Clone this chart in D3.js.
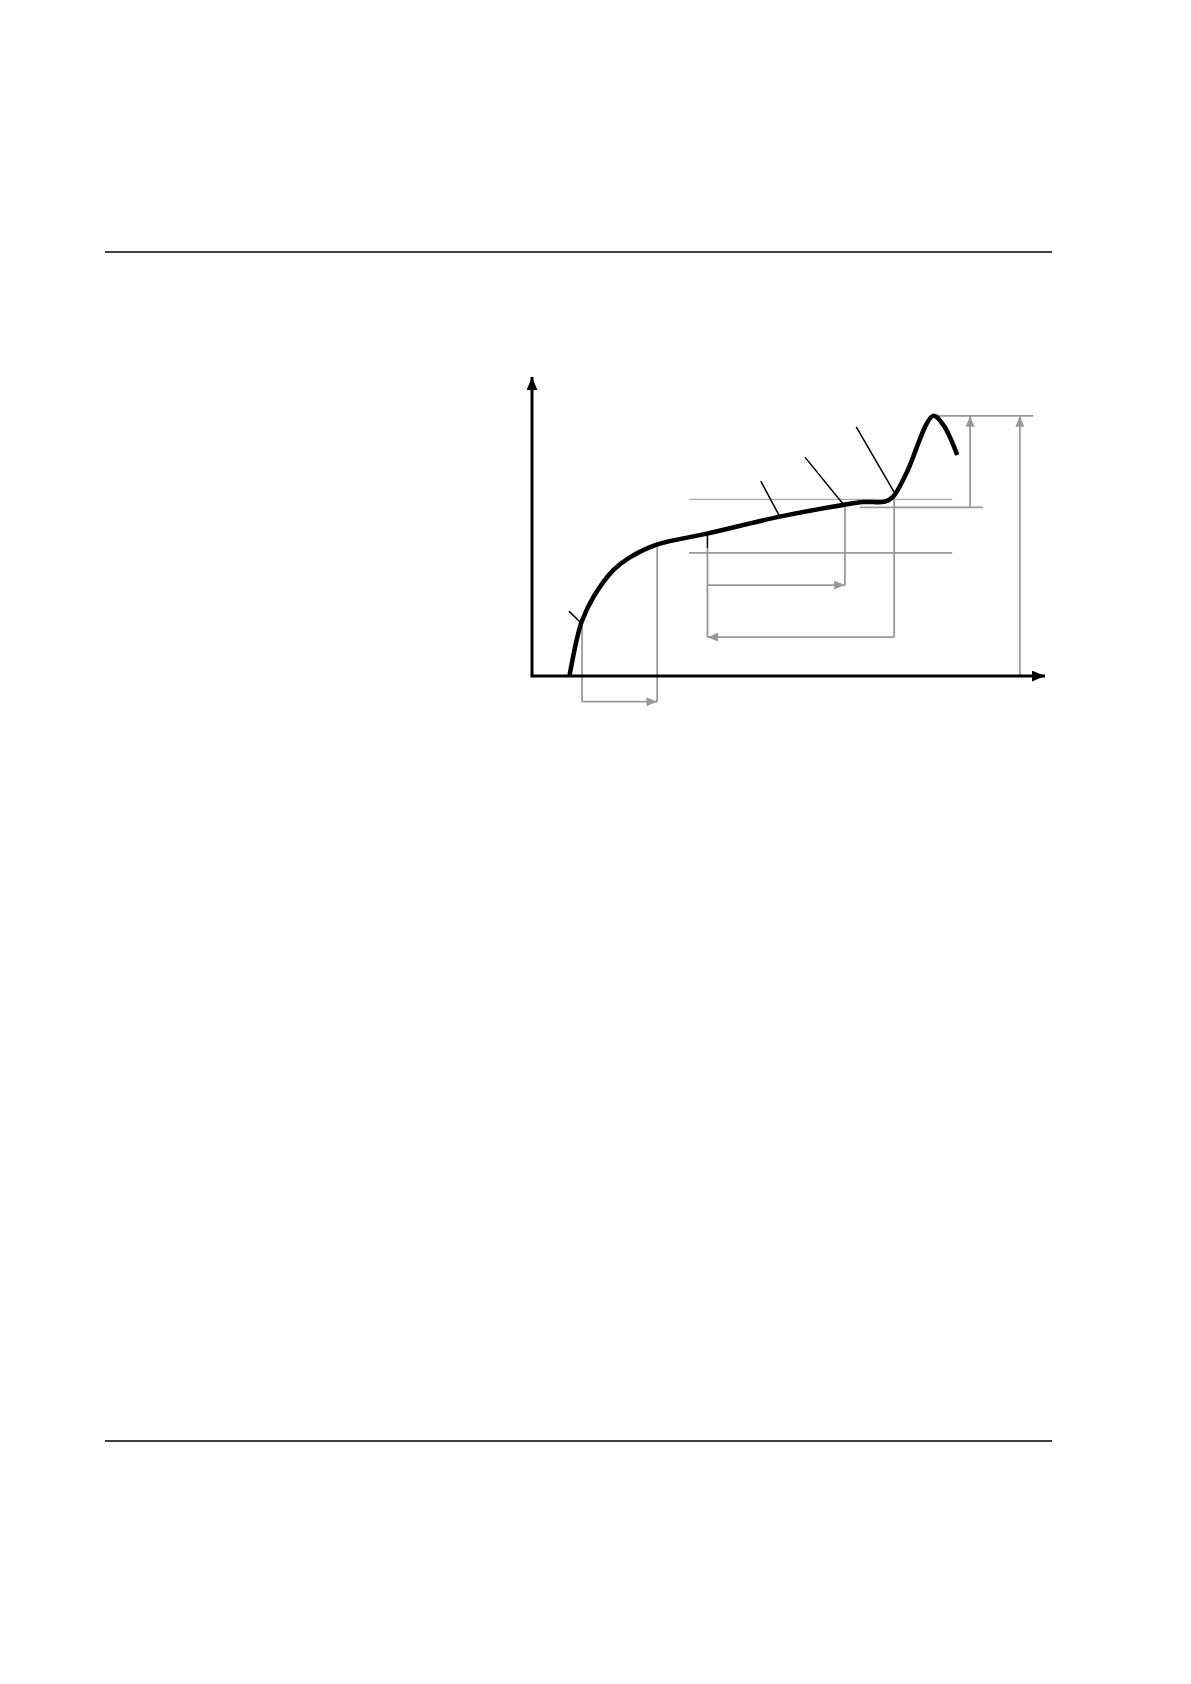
<!DOCTYPE html>
<html>
<head>
<meta charset="utf-8">
<script src="https://cdn.jsdelivr.net/npm/d3@7"></script>
<style>
  html, body { margin: 0; padding: 0; background: #fff; }
  svg { display: block; }
</style>
</head>
<body>
<div id="chart"></div>
<script>
// curve (chart units, 0..100 on both axes)
const curveX = [7.3, 8.7, 9.7, 12.0, 15.9, 19.0, 24.3, 34.1, 48.3, 60.6, 64.5, 68.8, 70.4, 73.0, 78.2, 80.2, 82.9];
const curveY = [0.0, 12.0, 18.2, 26.5, 35.5, 39.6, 43.9, 47.6, 53.3, 57.2, 58.2, 58.3, 60.0, 67.9, 87.0, 83.9, 73.9];

// grey horizontal reference lines: [xStart, xEnd, level]
const refLevels = [
  [78.2, 97.7, 87.0],
  [30.6, 81.9, 59.1],
  [63.9, 87.9, 56.4],
  [30.6, 81.9, 41.2]
];

// grey vertical drop lines: [x, yFrom, yTo]
const dropLines = [
  [9.75, 17.4, -8.6],
  [24.4, 43.8, -8.6],
  [34.2, 42.8, 13.0],
  [61.0, 57.0, 30.4],
  [70.6, 60.0, 13.0]
];

// grey arrows: [x1, y1, x2, y2]
const arrows = [
  [9.75, -8.6, 24.4, -8.6],
  [34.2, 30.4, 61.0, 30.4],
  [70.6, 13.0, 34.2, 13.0],
  [85.4, 56.4, 85.4, 87.0],
  [95.1, 0.0, 95.1, 87.0]
];

// black leader ticks: [x1, y1, x2, y2]
const leaders = [
  [7.2, 21.7, 9.75, 17.4],
  [44.6, 65.2, 48.3, 53.3],
  [53.2, 73.2, 60.8, 57.2],
  [63.2, 83.3, 70.6, 61.5],
  [34.2, 47.4, 34.2, 42.8]
];

const W = 1191, H = 1684;

const svg = d3.select("#chart").append("svg")
  .attr("width", W)
  .attr("height", H);

// page rules
svg.append("line").attr("x1", 105).attr("x2", 1052).attr("y1", 252).attr("y2", 252)
  .attr("stroke", "#000").attr("stroke-width", 1.4);
svg.append("line").attr("x1", 105).attr("x2", 1052).attr("y1", 1441).attr("y2", 1441)
  .attr("stroke", "#000").attr("stroke-width", 1.4);

const x = d3.scaleLinear().domain([0, 100]).range([532, 1045]);
const y = d3.scaleLinear().domain([0, 100]).range([676, 377]);

const defs = svg.append("defs");
defs.append("marker")
  .attr("id", "blackHead")
  .attr("markerUnits", "userSpaceOnUse")
  .attr("viewBox", "0 0 12 10")
  .attr("refX", 12).attr("refY", 5)
  .attr("markerWidth", 13).attr("markerHeight", 11)
  .attr("orient", "auto")
  .append("path").attr("d", "M0,0 L12,5 L0,10 Z").attr("fill", "#000");
defs.append("marker")
  .attr("id", "greyHead")
  .attr("markerUnits", "userSpaceOnUse")
  .attr("viewBox", "0 0 12 10")
  .attr("refX", 12).attr("refY", 5)
  .attr("markerWidth", 11).attr("markerHeight", 9)
  .attr("orient", "auto")
  .append("path").attr("d", "M0,0 L12,5 L0,10 Z").attr("fill", "#999");

const grey = "#999";

// reference levels
svg.selectAll(".ref")
  .data(refLevels)
  .enter().append("line")
  .attr("class", "ref")
  .attr("x1", d => x(d[0])).attr("x2", d => x(d[1]))
  .attr("y1", d => y(d[2])).attr("y2", d => y(d[2]))
  .attr("stroke", (d, i) => i === 1 ? "#aaa" : grey)
  .attr("stroke-width", (d, i) => i === 1 ? 1.2 : 1.8);

// drop lines
svg.selectAll(".drop")
  .data(dropLines)
  .enter().append("line")
  .attr("class", "drop")
  .attr("x1", d => x(d[0])).attr("x2", d => x(d[0]))
  .attr("y1", d => y(d[1])).attr("y2", d => y(d[2]))
  .attr("stroke", grey)
  .attr("stroke-width", 1.8);

// arrows
svg.selectAll(".arrow")
  .data(arrows)
  .enter().append("line")
  .attr("class", "arrow")
  .attr("x1", d => x(d[0])).attr("y1", d => y(d[1]))
  .attr("x2", d => x(d[2])).attr("y2", d => y(d[3]))
  .attr("stroke", grey)
  .attr("stroke-width", 1.8)
  .attr("marker-end", "url(#greyHead)");

// axes
svg.append("line")
  .attr("x1", x(0)).attr("y1", y(0)).attr("x2", x(0)).attr("y2", y(100))
  .attr("stroke", "#000").attr("stroke-width", 3)
  .attr("marker-end", "url(#blackHead)");
svg.append("line")
  .attr("x1", x(0) - 1.5).attr("y1", y(0)).attr("x2", x(100)).attr("y2", y(0))
  .attr("stroke", "#000").attr("stroke-width", 3)
  .attr("marker-end", "url(#blackHead)");

// leader ticks
svg.selectAll(".leader")
  .data(leaders)
  .enter().append("line")
  .attr("class", "leader")
  .attr("x1", d => x(d[0])).attr("y1", d => y(d[1]))
  .attr("x2", d => x(d[2])).attr("y2", d => y(d[3]))
  .attr("stroke", "#000")
  .attr("stroke-width", 1.5);

// main curve
const line = d3.line()
  .x(d => x(d[0]))
  .y(d => y(d[1]))
  .curve(d3.curveCatmullRom.alpha(0.5));

svg.append("path")
  .datum(d3.zip(curveX, curveY))
  .attr("d", line)
  .attr("fill", "none")
  .attr("stroke", "#000")
  .attr("stroke-width", 4.5)
  .attr("stroke-linejoin", "round");
</script>
</body>
</html>
